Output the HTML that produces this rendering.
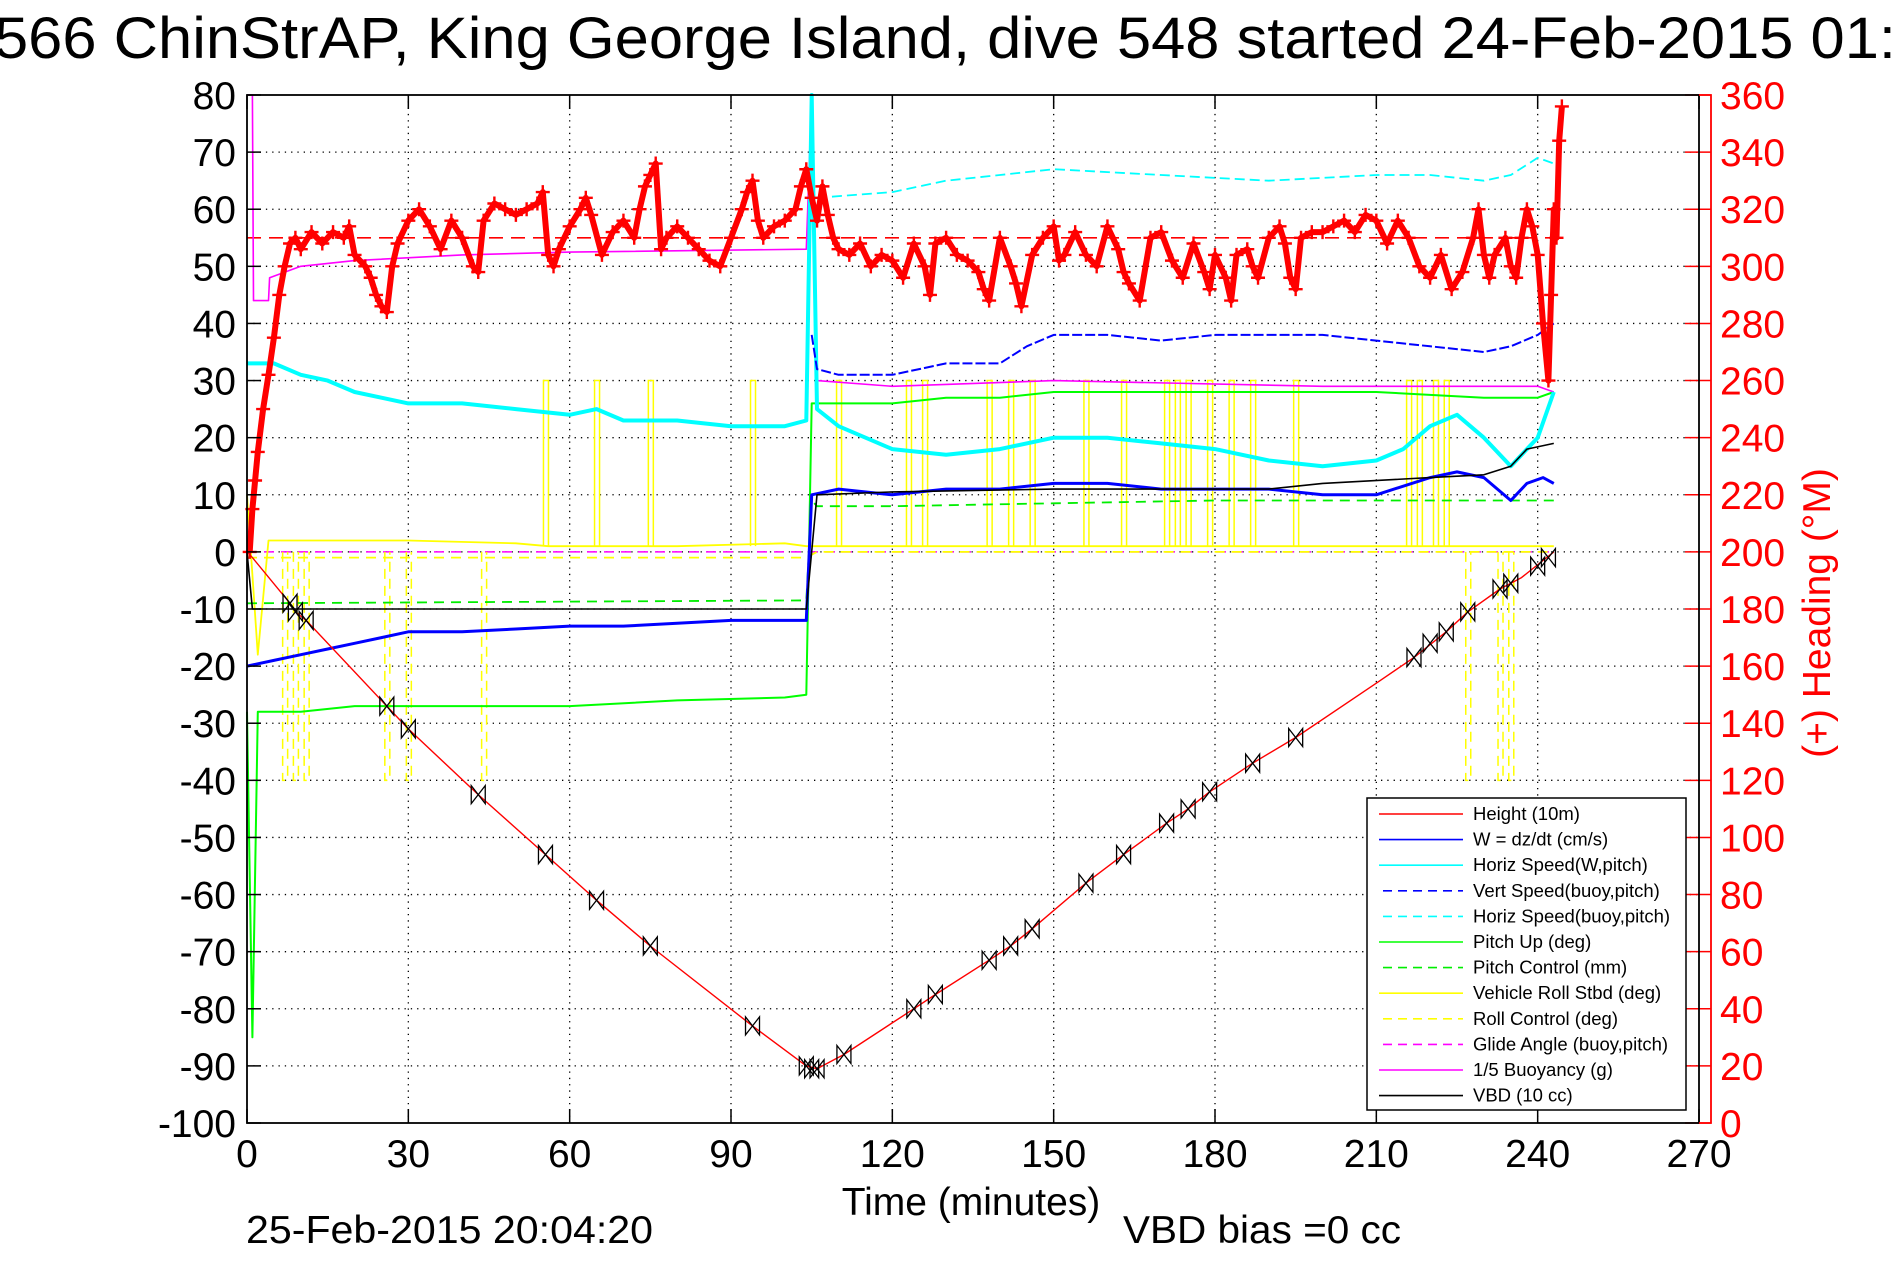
<!DOCTYPE html>
<html><head><meta charset="utf-8"><style>
html,body{margin:0;padding:0;background:#fff;}
svg{display:block;font-family:"Liberation Sans",sans-serif;}
</style></head><body>
<svg id="chart" width="1891" height="1262" viewBox="0 0 1891 1262" xmlns="http://www.w3.org/2000/svg">
<rect x="0" y="0" width="1891" height="1262" fill="#fff"/>
<text x="-6" y="58" font-size="58" textLength="1902" lengthAdjust="spacingAndGlyphs">566 ChinStrAP, King George Island, dive 548 started 24-Feb-2015 01:</text>
<g id="grid"></g>
<g id="series"></g>
<g id="axes"></g>
<text x="971" y="1215" font-size="39" text-anchor="middle">Time (minutes)</text>
<text x="246" y="1243" font-size="39" textLength="407" lengthAdjust="spacingAndGlyphs">25-Feb-2015 20:04:20</text>
<text x="1123" y="1243" font-size="39" textLength="278" lengthAdjust="spacingAndGlyphs">VBD bias =0 cc</text>
<text x="0" y="0" font-size="39" fill="#f00" text-anchor="middle" transform="translate(1830,613) rotate(-90)">(+) Heading (°M)</text>
<g id="legend"></g>
</svg>
<script>
const xTicks=[0,30,60,90,120,150,180,210,240,270];
const yTicks=[80,70,60,50,40,30,20,10,0,-10,-20,-30,-40,-50,-60,-70,-80,-90,-100];
const rTicks=[360,340,320,300,280,260,240,220,200,180,160,140,120,100,80,60,40,20,0];

const heightT=[0,1,8,9,11,26,30,43,55.5,65,75,94,104,106,111,124,128,138,142,146,156,163,171,175,179,187,195,210,217,223,227,233,237,241,243];
const heightV=[0,-1,-9,-10.5,-12,-27,-31,-42.5,-53,-61,-69,-83,-90,-90.5,-88,-80,-77.5,-71.5,-69,-66,-58,-53,-47.5,-45,-42,-37,-32.5,-23,-18.5,-14,-10.5,-6.5,-4.5,-1.5,0];
const markT=[8,9,11,26,30,43,55.5,65,75,94,104,105,106,111,124,128,138,142,146,156,163,171,175,179,187,195,217,220,223,227,233,235,240,242];
const markV=[-9,-10.5,-12,-27,-31,-42.5,-53,-61,-69,-83,-90,-90.5,-90.5,-88,-80,-77.5,-71.5,-69,-66,-58,-53,-47.5,-45,-42,-37,-32.5,-18.5,-16,-14,-10.5,-6.5,-5.5,-2.5,-1];

const wT=[0,5,10,15,20,25,30,40,50,60,70,80,90,104,105,110,120,130,140,150,160,170,180,190,200,210,220,225,230,235,238,241,243];
const wV=[-20,-19,-18,-17,-16,-15,-14,-14,-13.5,-13,-13,-12.5,-12,-12,10,11,10,11,11,12,12,11,11,11,10,10,13,14,13,9,12,13,12];
const vsT=[105,106,110,120,125,130,140,145,150,160,170,180,190,200,210,220,230,235,240,243];
const vsV=[38,32,31,31,32,33,33,36,38,38,37,38,38,38,37,36,35,36,38,40];
const hsT=[0,5,10,15,20,25,30,40,50,60,65,70,80,90,100,104,105,106,110,120,130,140,150,160,170,180,190,200,210,215,220,225,230,235,240,243];
const hsV=[33,33,31,30,28,27,26,26,25,24,25,23,23,22,22,23,80,25,22,18,17,18,20,20,19,18,16,15,16,18,22,24,20,15,20,28];
const hbT=[106,120,130,140,150,170,190,210,220,230,235,240,243];
const hbV=[62,63,65,66,67,66,65,66,66,65,66,69,68];
const pitchT=[0,1,2,10,20,40,60,80,100,104,105,110,120,130,140,150,170,190,210,230,240,243];
const pitchV=[-28,-85,-28,-28,-27,-27,-27,-26,-25.5,-25,26,26,26,27,27,28,28,28,28,27,27,28];
const pcT=[0,104,105,106,120,150,180,210,240,243];
const pcV=[-9,-8.5,9,8,8,8.5,9,9,9,9];
const rollT=[0,2,4,10,30,50,56,60,80,100,104,106,120,150,180,210,240,243];
const rollV=[10,-18,2,2,2,1.5,1,1,1,1.5,1,1,1,1,1,1,1,1];
const rollSpikeT=[55.5,65,75,94,110,123,126,138,142,146,156,163,171,173,175,179,183,187,195,216,218,221,223];
const rcT=[0,104,106,243];
const rcV=[-1,-1,0,0];
const rcSpikeT=[7,9,11,26,30,44,227,233,235];
const glideT=[0,243];
const glideV=[0,0];
const buoyT=[0,1,1.2,4,4.2,10,20,40,60,104,105,106,120,150,200,240,243];
const buoyV=[80,80,44,44,48,50,51,52,52.5,53,80,30,29,30,29,29,28];
const vbdT=[0,1,104,106,120,150,190,200,220,230,235,238,243];
const vbdV=[0,-10,-10,10,10.5,11,11,12,13,13.5,15,18,19];
const headTargetV=[310];
const headT=[0.5,1,1.5,2,3,4,5,6,7,8,9,10,12,14,16,18,19,20,22,23,24,25,26,27,28,30,32,34,36,38,40,42,43,44,46,48,50,52,54,55,56,57,58,60,62,63,64,66,68,70,72,73,74,75,76,77,78,80,82,84,86,88,90,92,93,94,95,96,98,100,102,103,104,105,106,107,108,109,110,112,114,116,118,120,122,124,126,127,128,130,132,134,136,137,138,140,142,143,144,146,148,150,151,152,154,156,158,160,162,163,164,166,168,170,172,174,176,178,179,180,182,183,184,186,187,188,190,192,193,194,195,196,198,200,202,204,206,208,210,212,214,216,218,220,222,224,226,228,229,230,231,232,234,235,236,237,238,239,240,241,242,242.5,243,243.5,244,244.5];
const headV=[200,215,225,235,250,262,275,290,300,308,310,306,312,308,312,310,314,304,300,296,290,286,284,300,308,316,320,314,306,316,310,300,298,316,322,320,318,320,322,326,304,300,306,314,320,324,318,304,312,316,310,320,328,332,336,306,310,314,310,306,302,300,310,320,326,330,316,310,314,316,320,328,334,324,316,328,318,310,306,304,308,300,304,302,296,308,300,290,308,310,304,302,298,292,288,310,300,294,286,304,310,314,302,304,312,304,300,314,306,298,294,288,310,312,302,296,308,298,292,304,296,288,304,306,300,296,310,314,308,296,292,310,312,312,314,316,312,318,316,308,316,310,300,296,304,292,298,310,320,304,296,304,310,300,296,310,320,314,304,280,260,290,320,310,344,356];

const NS='http://www.w3.org/2000/svg';
const L=247,R=1699,T=95,B=1123;
function X(t){return L+(t-0)/270*(R-L);}
function YL(v){return T+(80-v)/180*(B-T);}
function YR(h){return T+(360-h)/360*(B-T);}
function YtoL(h){return h/2-100;}
function mk(tag,attrs,parent){const e=document.createElementNS(NS,tag);for(const k in attrs)e.setAttribute(k,attrs[k]);parent.appendChild(e);return e;}
const grid=document.getElementById('grid'),ser=document.getElementById('series'),axes=document.getElementById('axes'),leg=document.getElementById('legend');

xTicks.forEach(t=>{
 if(t>0&&t<270){const g=mk('line',{x1:X(t),x2:X(t),y1:T,y2:B,stroke:'#000','stroke-width':1.3,'stroke-dasharray':'1.3,5'},grid);
 
 }
 const a=mk('line',{x1:X(t),x2:X(t),y1:B,y2:B-14,stroke:'#000','stroke-width':1.5},axes);
 
 
 const b=mk('line',{x1:X(t),x2:X(t),y1:T,y2:T+14,stroke:'#000','stroke-width':1.5},axes);
 
 
 const tx=mk('text',{x:X(t),y:1167,'font-size':39,'text-anchor':'middle'},axes);tx.textContent=t;
 
 
});
yTicks.forEach(v=>{
 if(v<80&&v>-100){const g=mk('line',{x1:L,x2:R,y1:YL(v),y2:YL(v),stroke:'#000','stroke-width':1.3,'stroke-dasharray':'1.3,5'},grid);
 
 }
 const a=mk('line',{x1:L,x2:L+14,y1:YL(v),y2:YL(v),stroke:'#000','stroke-width':1.5},axes);
 
 
 const tx=mk('text',{x:236,y:YL(v)+14,'font-size':39,'text-anchor':'end'},axes);tx.textContent=v;
 
 
});
rTicks.forEach(h=>{
 const a=mk('line',{x1:R-14,x2:R+12,y1:YR(h),y2:YR(h),stroke:'#f00','stroke-width':1.5},axes);
 
 
 const tx=mk('text',{x:1720,y:YR(h)+14,'font-size':39,fill:'#f00'},axes);tx.textContent=h;
 
 
});
const fr=mk('rect',{x:L,y:T,width:R-L,height:B-T,fill:'none',stroke:'#000','stroke-width':1.8},axes);


const ra=mk('polyline',{points:`${R},${T} ${R+12},${T} ${R+12},${B} ${R},${B}`,fill:'none',stroke:'#f00','stroke-width':1.8},axes);



function line(ts,vs,color,dash,w,name){
 const pts=ts.map((t,i)=>X(t).toFixed(1)+','+YL(vs[i]).toFixed(1)).join(' ');
 const p=mk('polyline',{points:pts,fill:'none',stroke:color,'stroke-width':w||1.6,'stroke-linejoin':'round'},ser);
 if(dash)p.setAttribute('stroke-dasharray',dash);
 
 
 return p;
}
function spikes(ts,base,top,color,dash,name){
 ts.forEach(t=>{const s=mk('polyline',{points:`${X(t)-2},${YL(base)} ${X(t)-2},${YL(top)} ${X(t)+3},${YL(top)} ${X(t)+3},${YL(base)}`,fill:'none',stroke:color,'stroke-width':1.5},ser);
 if(dash)s.setAttribute('stroke-dasharray',dash);
 
 });
}
line([0,243],[YtoL(headTargetV[0]),YtoL(headTargetV[0])],'#f00','14,8',1.6,'heading-target-line');
line(glideT,glideV,'#f0f','10,7',1.5,'glide-angle-line');
line(rcT,rcV,'#ff0','10,7',1.8,'roll-control-line');
spikes(rcSpikeT,0,-40,'#ff0','10,7','roll-control-spike');
line(rollT,rollV,'#ff0',null,1.8,'vehicle-roll-line');
spikes(rollSpikeT,1,30,'#ff0',null,'vehicle-roll-spike');
line(pcT,pcV,'#0e0','10,7',1.8,'pitch-control-line');
line(pitchT,pitchV,'#0f0',null,2,'pitch-up-line');
line(buoyT,buoyV,'#f0f',null,1.6,'buoyancy-line');
line(hbT,hbV,'#0ff','10,5',1.8,'horiz-speed-buoy-line');
line(hsT,hsV,'#0ff',null,4,'horiz-speed-w-line');
line(vsT,vsV,'#00f','10,3',2,'vert-speed-buoy-line');
line(wT,wV,'#00f',null,3,'w-line');
line(vbdT,vbdV,'#000',null,1.6,'vbd-line');
line(heightT,heightV,'#f00',null,1.4,'height-line');
markT.forEach((t,i)=>{const x=X(t),y=YL(markV[i]);
 const m=mk('path',{d:`M${x-7},${y-9} L${x+7},${y+9} L${x+7},${y-9} L${x-7},${y+9} Z`,fill:'none',stroke:'#000','stroke-width':1.3},ser);
 
 });
const hpts=headT.map((t,i)=>X(t).toFixed(1)+','+YR(headV[i]).toFixed(1)).join(' ');
const htr=mk('polyline',{points:hpts,fill:'none',stroke:'#f00','stroke-width':6,'stroke-linejoin':'round'},ser);


headT.forEach((t,i)=>{const x=X(t),y=YR(headV[i]);
 const m=mk('path',{d:`M${x-7},${y} H${x+7} M${x},${y-7} V${y+7}`,stroke:'#f00','stroke-width':2.4},ser);
 
 });

const legNames=['Height (10m)','W = dz/dt (cm/s)','Horiz Speed(W,pitch)','Vert Speed(buoy,pitch)','Horiz Speed(buoy,pitch)','Pitch Up (deg)','Pitch Control (mm)','Vehicle Roll Stbd (deg)','Roll Control (deg)','Glide Angle (buoy,pitch)','1/5 Buoyancy (g)','VBD (10 cc)'];
const legColors=['#f00','#00f','#0ff','#00f','#0ff','#0f0','#0e0','#ff0','#ff0','#f0f','#f0f','#000'];
const legDash=[0,0,0,1,1,0,1,0,1,1,0,0];
const lb=mk('rect',{x:1367,y:798,width:319,height:312,fill:'#fff',stroke:'#000','stroke-width':1.5},leg);


legNames.forEach((n,i)=>{const y=814+i*25.6;
 const l=mk('line',{x1:1379,x2:1463,y1:y,y2:y,stroke:legColors[i],'stroke-width':1.6},leg);
 if(legDash[i]){l.setAttribute('stroke-dasharray','9,6');l.setAttribute('x1',1383);}
 
 
 const tx=mk('text',{x:1473,y:y+6,'font-size':18.5},leg);tx.textContent=n;
 
 });
</script>
</body></html>
